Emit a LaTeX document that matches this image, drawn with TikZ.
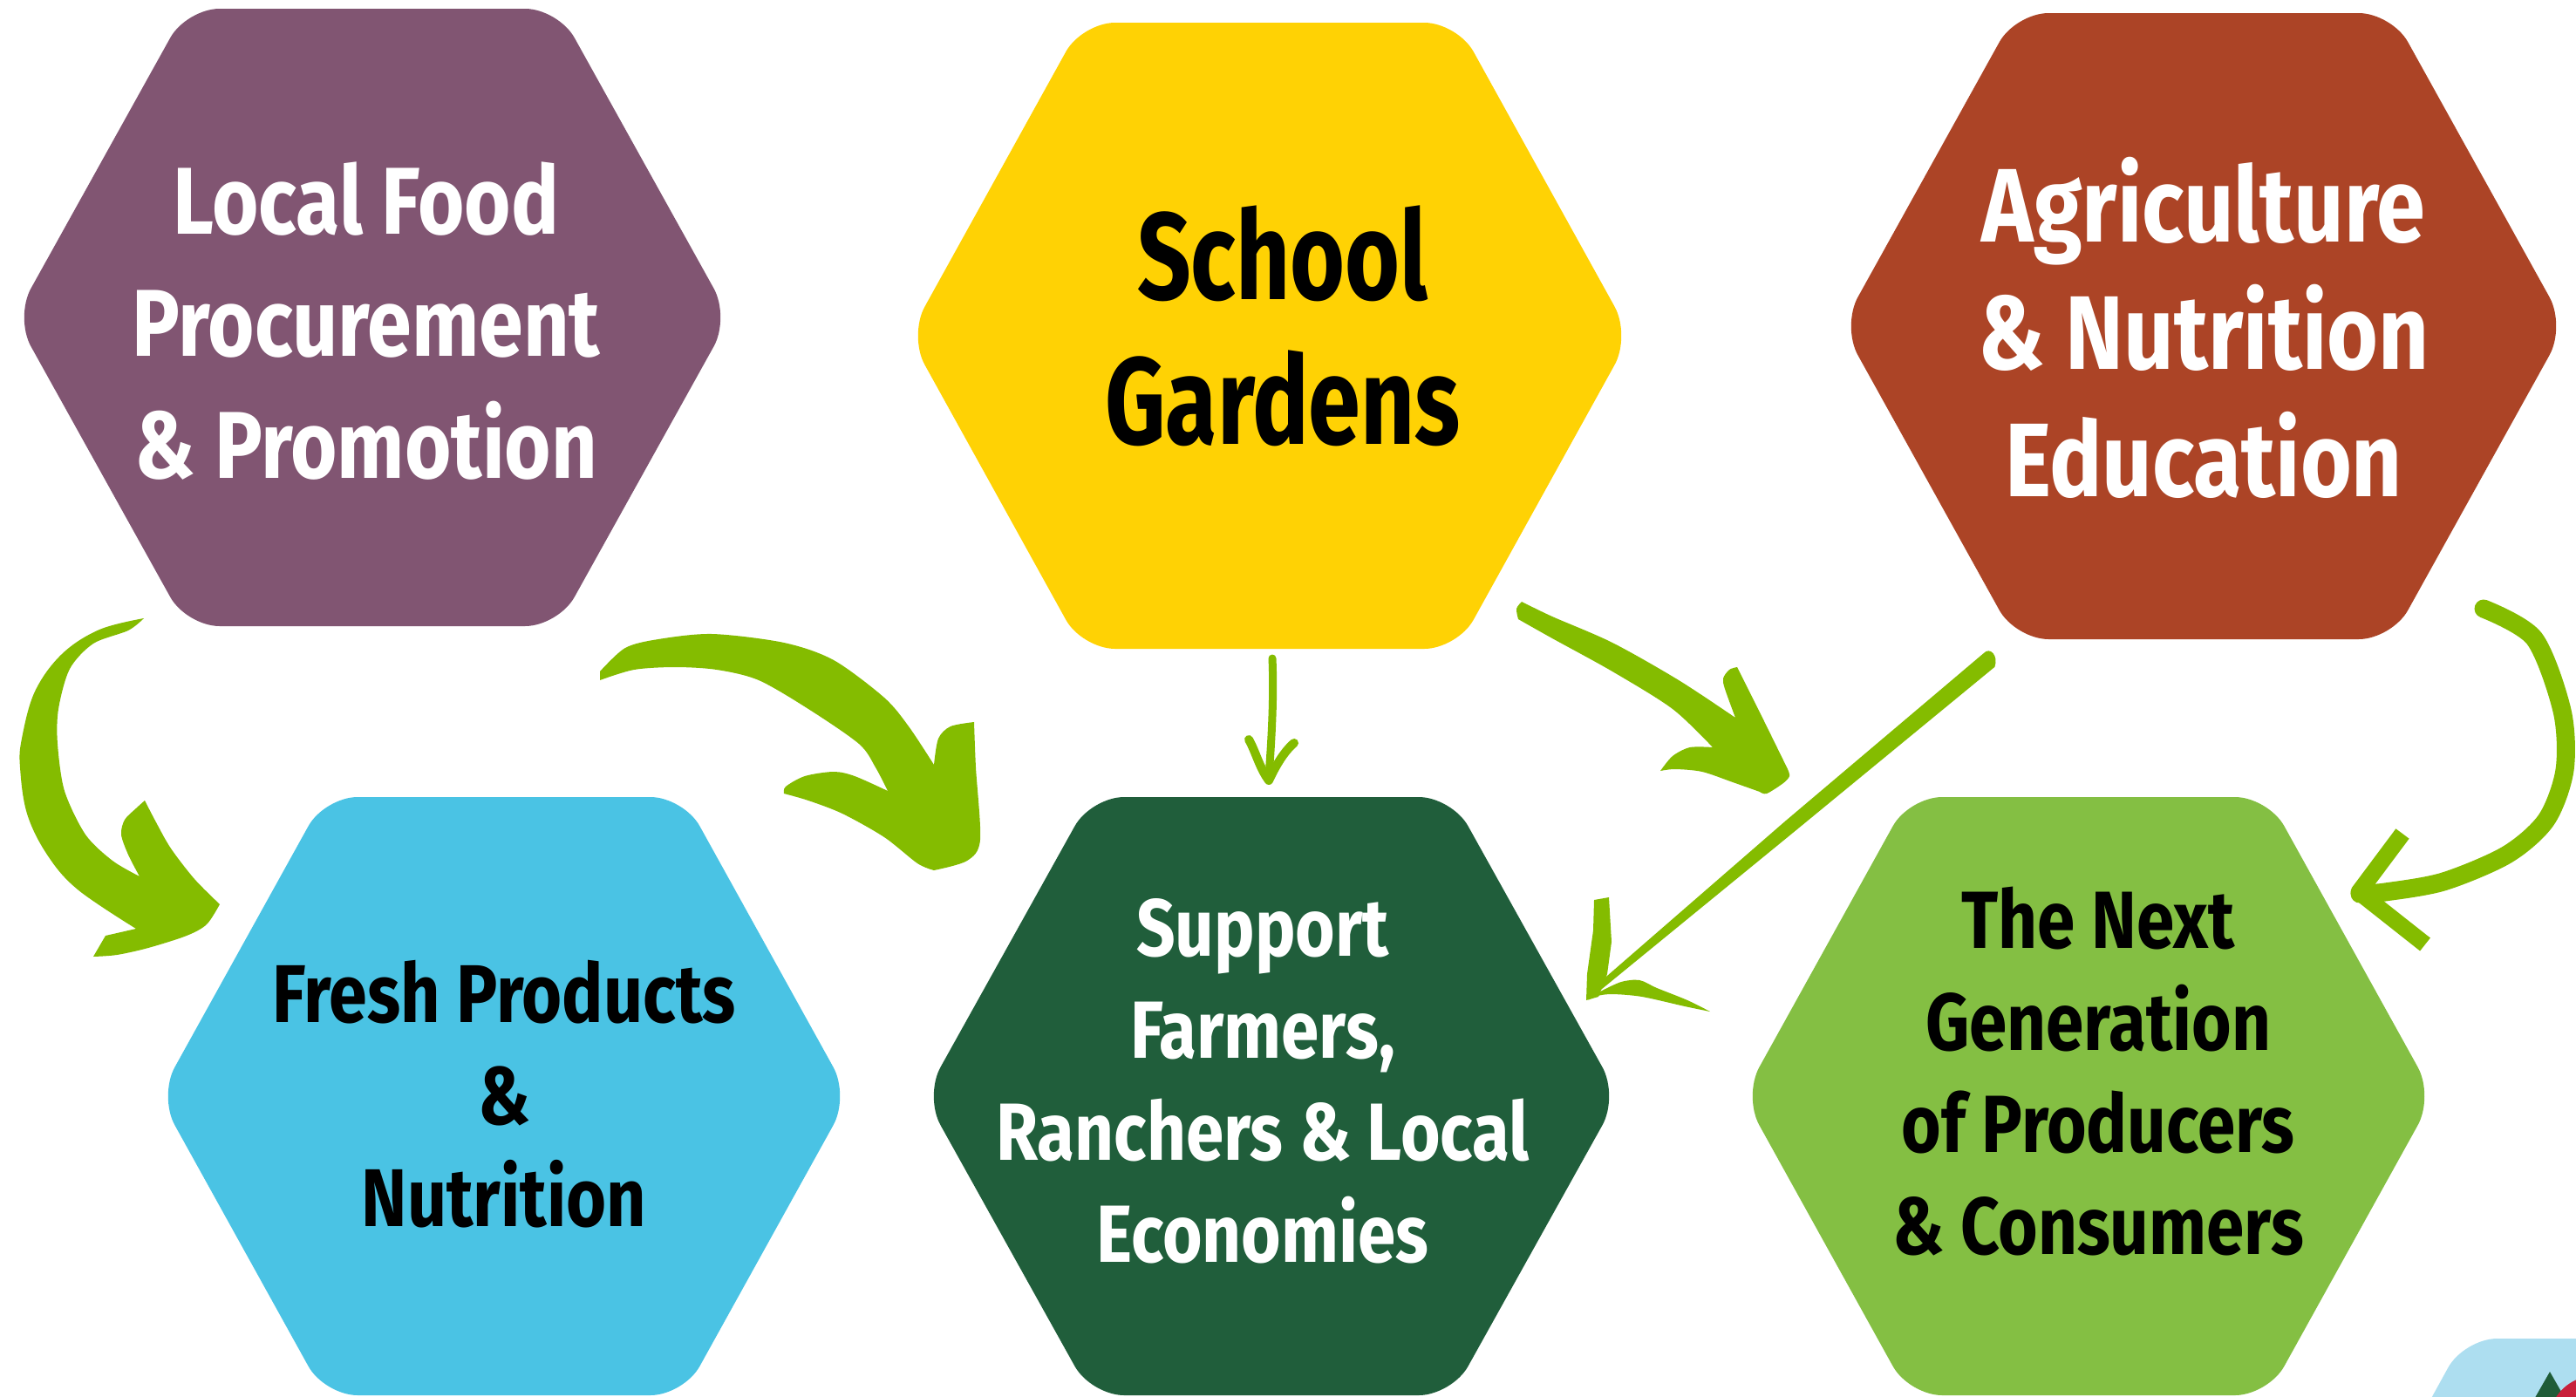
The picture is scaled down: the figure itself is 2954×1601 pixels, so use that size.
\documentclass[tikz,border=0pt]{standalone}
\usepackage{fontspec}
\newfontfamily\hexfont{Fira Sans}[FakeStretch=0.84]
\newfontfamily\hexfontnarrow{Fira Sans}[FakeStretch=0.76]
\definecolor{hexpurple}{HTML}{815572}
\definecolor{hexyellow}{HTML}{FFD204}
\definecolor{hexred}{HTML}{AC4426}
\definecolor{hexblue}{HTML}{4AC3E4}
\definecolor{hexdkgreen}{HTML}{205E3B}
\definecolor{hexltgreen}{HTML}{84BF43}
\definecolor{arrowgreen}{HTML}{84BC00}
\definecolor{logoblue}{HTML}{ADDEF0}
\definecolor{logogreen}{HTML}{1F5C38}
\definecolor{logored}{HTML}{C8203A}
% #1 colour, #2 cx, #3 cy, #4 half width, #5 half height
\newcommand\hexshape[5]{%
  \fill[#1, rounded corners=38pt] (#2,#3-#5) -- (#2+0.52*#4,#3-#5) -- (#2+#4,#3)
    -- (#2+0.52*#4,#3+#5) -- (#2-0.52*#4,#3+#5) -- (#2-#4,#3)
    -- (#2-0.52*#4,#3-#5) -- cycle;}
\begin{document}
\begin{tikzpicture}[x=1pt,y=-1pt,
  hextext/.style={anchor=base, inner sep=0pt, font=\hexfont\bfseries},
  arrowfill/.style={fill=arrowgreen},
  arrowline/.style={draw=arrowgreen}]
\useasboundingbox (0,0) rectangle (2954,1601);
\fill[white] (0,0) rectangle (2954,1601);

% hexagons
\hexshape{hexpurple}{427}{364}{410}{354}
\hexshape{hexyellow}{1456}{385}{414}{359}
\hexshape{hexred}{2527}{374}{415}{359}
\hexshape{hexblue}{578}{1257}{396}{343}
\hexshape{hexdkgreen}{1458}{1257}{398}{343}
\hexshape{hexltgreen}{2395}{1257}{396}{343}

% corner logo (partly visible)
\begin{scope}
\clip (0,0) rectangle (2954,1601);
\hexshape{logoblue}{3030}{1878}{393}{343}
\fill[logogreen] (2924,1573) -- (2880,1650) -- (2968,1650) -- cycle;
\fill[logored] (2975,1630) circle[radius=52];
\end{scope}

% texts
\node[hextext, text=white] (t1) at (420,268) {\fontsize{109}{140}\selectfont
  \begin{tabular}[t]{@{}c@{}}Local Food\\Procurement\\\& Promotion\end{tabular}};
\node[hextext, text=black, font=\hexfontnarrow\bfseries] (t2) at (1471,343) {\fontsize{142}{166}\selectfont
  \begin{tabular}[t]{@{}c@{}}School\\Gardens\end{tabular}};
\node[hextext, text=white] (t3) at (2527,277) {\fontsize{120}{146}\selectfont
  \begin{tabular}[t]{@{}c@{}}Agriculture\\\& Nutrition\\Education\end{tabular}};
\node[hextext, text=black] (t4) at (578,1172) {\fontsize{94}{117}\selectfont
  \begin{tabular}[t]{@{}c@{}}Fresh Products\\\&\\Nutrition\end{tabular}};
\node[hextext, text=white] (t5) at (1448,1096) {\fontsize{93}{117}\selectfont
  \begin{tabular}[t]{@{}c@{}}Support\\Farmers,\\Ranchers \& Local\\Economies\end{tabular}};
\node[hextext, text=black] (t6) at (2406,1087) {\fontsize{93}{117}\selectfont
  \begin{tabular}[t]{@{}c@{}}The Next\\Generation\\of Producers\\\& Consumers\end{tabular}};

% arrow A: purple -> blue
\fill[arrowfill] plot[smooth,tension=0.6] coordinates {(165,709) (114,722) (71,750) (40,793) (25,847) (23,880) (31,933) (54,980) (89,1020) (156,1065)}
  -- (121,1073) -- (107,1097)
  -- plot[smooth] coordinates {(107,1097) (134,1095) (170,1087) (214,1073) (237,1060) (252,1037)}
  -- plot[smooth] coordinates {(252,1037) (223,1008) (196,973) (179,943) (166,918)}
  -- plot[smooth] coordinates {(166,918) (156,927) (143,940) (139,957) (147,980) (160,1005)}
  -- plot[smooth] coordinates {(160,1005) (129,987) (98,957) (74,907) (66,853) (67,813) (80,767) (107,738) (147,723) (165,709)}
  -- cycle;

% arrow B: purple -> dark green
\fill[arrowfill] (688,780) -- plot[smooth] coordinates {(688,770) (717,743) (755,733) (817,727) (899,737) (956,757) (1014,800) (1042,833) (1071,877)}
  -- plot[smooth] coordinates {(1071,877) (1076,847) (1090,833) (1117,828)}
  -- plot[smooth] coordinates {(1117,828) (1119,880) (1124,963) (1109,987) (1071,998)}
  -- plot[smooth] coordinates {(1071,998) (1052,990) (1014,960) (966,933) (927,918) (899,910)}
  -- plot[smooth] coordinates {(899,910) (901,902) (923,890) (956,885) (980,890) (1018,907)}
  -- plot[smooth] coordinates {(1018,907) (1004,880) (985,853) (927,813) (870,780) (822,768) (774,765) (727,768) (688,780)}
  -- cycle;

% arrow C: yellow -> dark green
\draw[arrowline, line width=9pt, line cap=round] (1459,755) .. controls (1461,800) and (1458,850) .. (1455,890);
\draw[arrowline, line width=10pt, line cap=round, line join=round] (1432,848) .. controls (1440,862) and (1444,880) .. (1455,895) .. controls (1462,880) and (1472,862) .. (1484,852);

% arrow D: yellow -> light green
\fill[arrowfill] plot[smooth] coordinates {(1741,710) (1739,698) (1745,690)}
  -- plot[smooth] coordinates {(1745,690) (1780,707) (1849,737) (1925,780) (1990,823)}
  -- plot[smooth] coordinates {(1990,823) (1978,790) (1976,778) (1983,768) (1992,765)}
  -- plot[smooth] coordinates {(1992,765) (2021,823) (2050,882)}
  -- plot[smooth] coordinates {(2050,882) (2052,890) (2045,898) (2026,910) (2018,908)}
  -- plot[smooth] coordinates {(2018,908) (1987,897) (1952,885) (1921,882) (1904,884)}
  -- plot[smooth] coordinates {(1904,884) (1918,867) (1938,857) (1964,857)}
  -- plot[smooth] coordinates {(1964,857) (1918,813) (1849,770) (1780,732) (1741,710)}
  -- cycle;

% arrow E: red -> dark green
\fill[arrowfill] (2274.6,749.2) .. controls (2282,741) and (2292,752) .. (2287.4,764.8)
  -- (2057.1,954.1) -- (1825.2,1143.7) -- (1820.8,1138.3) -- (2046.9,941.9) -- cycle;
\fill[arrowfill] (1828,1032) -- (1845,1029) -- (1848,1080) -- (1843,1117) -- (1833,1143)
  -- (1819,1147) -- (1820,1117) -- (1827,1067) -- cycle;
\fill[arrowfill] (1821,1147) -- (1835,1137) -- plot[smooth] coordinates {(1835,1137) (1859,1126) (1880,1124) (1900,1133) (1935,1147) (1961,1160)}
  -- plot[smooth] coordinates {(1961,1160) (1932,1154) (1883,1143) (1849,1140) (1832,1142) (1821,1147)} -- cycle;

% arrow F: red -> light green
\draw[arrowline, line width=21pt, line cap=round] plot[smooth] coordinates {(2848,698) (2906,732) (2938,815) (2941,883) (2920,940) (2875,980) (2802,1011) (2735,1023) (2706,1025)};
\draw[arrowline, line width=19pt, line join=round] (2755,956) -- (2705,1023) -- (2781,1083);
\end{tikzpicture}
\end{document}
